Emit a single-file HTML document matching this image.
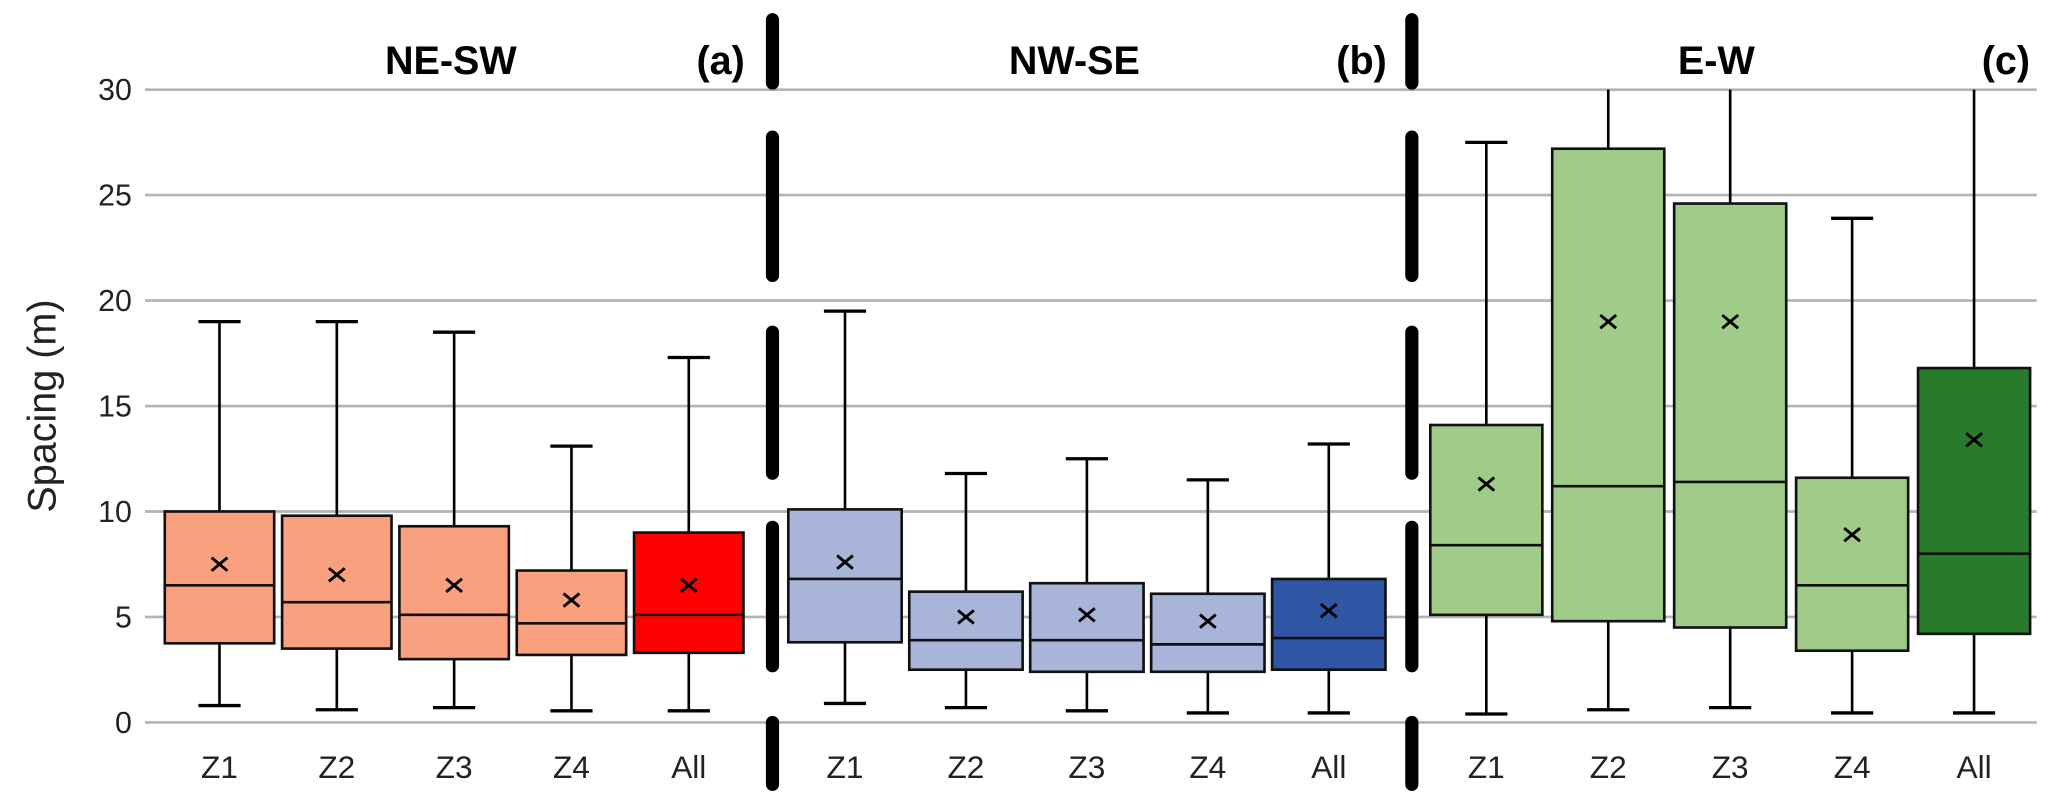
<!DOCTYPE html>
<html><head><meta charset="utf-8"><style>
html,body{margin:0;padding:0;background:#fff;}
svg{display:block;font-family:"Liberation Sans",Arial,sans-serif;}
</style></head><body>
<svg id="chart" width="2067" height="806" viewBox="0 0 1568 611.4" preserveAspectRatio="none" xmlns="http://www.w3.org/2000/svg"></svg>
<script>
const yTicks = [0,5,10,15,20,25,30];
const categories = ["Z1","Z2","Z3","Z4","All"];
const groupTitles = ["NE-SW","NW-SE","E-W"];
const panelLabels = ["(a)","(b)","(c)"];
// per group: [min, q1, median, q3, max, mean] for each category
const groupA = [[0.8,3.75,6.5,10,19,7.5],[0.6,3.5,5.7,9.8,19,7.0],[0.7,3.0,5.1,9.3,18.5,6.5],[0.55,3.2,4.7,7.2,13.1,5.8],[0.55,3.3,5.1,9.0,17.3,6.5]];
const groupB = [[0.9,3.8,6.8,10.1,19.5,7.6],[0.7,2.5,3.9,6.2,11.8,5.0],[0.55,2.4,3.9,6.6,12.5,5.1],[0.45,2.4,3.7,6.1,11.5,4.8],[0.45,2.5,4.0,6.8,13.2,5.3]];
const groupC = [[0.4,5.1,8.4,14.1,27.5,11.3],[0.6,4.8,11.2,27.2,33,19],[0.7,4.5,11.4,24.6,33,19],[0.45,3.4,6.5,11.6,23.9,8.9],[0.45,4.2,8.0,16.8,33,13.4]];

const svg = document.getElementById('chart');
const NS = 'http://www.w3.org/2000/svg';
const y = v => 548 - (Math.min(v,30)) * 16;
const groupStart = [125, 598, 1085];
const groupStep = [89, 91.75, 92.5];
const groupBoxW = [83, 86, 85];
const fills = [["#f9a07f","#f9a07f","#f9a07f","#f9a07f","#ff0000"],["#a8b5d9","#a8b5d9","#a8b5d9","#a8b5d9","#2f56a4"],["#a0cb89","#a0cb89","#a0cb89","#a0cb89","#277b2b"]];
function mk(tag, attrs, parent){const e=document.createElementNS(NS,tag);for(const k in attrs)e.setAttribute(k,attrs[k]);(parent||svg).appendChild(e);return e;}

yTicks.forEach(t=>{
  const l=mk('line',{x1:110,x2:1545,y1:y(t),y2:y(t),stroke:'#b3b3b3','stroke-width':2});
  
  
  const tx=mk('text',{x:100,y:y(t)+8,'text-anchor':'end','font-size':23,fill:'#222'});
  tx.textContent=t;
  
  
});
const yl=mk('text',{x:42,y:308,'text-anchor':'middle','font-size':30,fill:'#222',transform:'rotate(-90 42 308)'});
yl.textContent='Spacing (m)';



[586,1071].forEach((sx,i)=>{
  [[10,68],[99,214],[247,364],[395,510],[543,600]].forEach(s=>{
    const l=mk('line',{x1:sx,x2:sx,y1:s[0]+5,y2:s[1]-5,stroke:'#000','stroke-width':10,'stroke-linecap':'round'});
    
    
  });
});

const groups=[groupA,groupB,groupC];
const titleX=[342,815,1302], labelX=[565,1052,1540];
groups.forEach((g,gi)=>{
  const t=mk('text',{x:titleX[gi],y:56,'text-anchor':'middle','font-size':30,'font-weight':'bold',fill:'#000'});
  t.textContent=groupTitles[gi];
  
  
  const p=mk('text',{x:labelX[gi],y:56,'text-anchor':'end','font-size':30,'font-weight':'bold',fill:'#000'});
  p.textContent=panelLabels[gi];
  
  
  g.forEach((d,ci)=>{
    const boxW=groupBoxW[gi];
    const x0=groupStart[gi]+ci*groupStep[gi], cx=x0+boxW/2;
    const grp=mk('g',{});
    
    
    const [mn,q1,md,q3,mx,mean]=d;
    mk('line',{x1:cx,x2:cx,y1:y(mx),y2:y(q3),stroke:'#000','stroke-width':2},grp);
    mk('line',{x1:cx,x2:cx,y1:y(q1),y2:y(mn),stroke:'#000','stroke-width':2},grp);
    if(mx<=30) mk('line',{x1:cx-16,x2:cx+16,y1:y(mx),y2:y(mx),stroke:'#000','stroke-width':2.5},grp);
    mk('line',{x1:cx-16,x2:cx+16,y1:y(mn),y2:y(mn),stroke:'#000','stroke-width':2.5},grp);
    mk('rect',{x:x0,y:y(q3),width:boxW,height:y(q1)-y(q3),fill:fills[gi][ci],stroke:'#111','stroke-width':2},grp);
    mk('line',{x1:x0,x2:x0+boxW,y1:y(md),y2:y(md),stroke:'#111','stroke-width':2},grp);
    const my=y(mean);
    mk('path',{d:`M${cx-6} ${my-5}L${cx+6} ${my+5}M${cx+6} ${my-5}L${cx-6} ${my+5}`,stroke:'#000','stroke-width':2.2},grp);
    const lab=mk('text',{x:cx,y:590,'text-anchor':'middle','font-size':24,fill:'#222'});
    lab.textContent=categories[ci];
    
    
  });
});
</script>
</body></html>
